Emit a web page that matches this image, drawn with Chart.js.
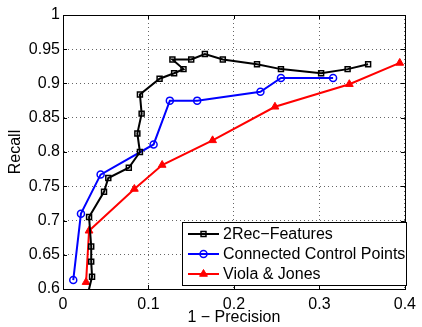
<!DOCTYPE html>
<html>
<head>
<meta charset="utf-8">
<script src="https://cdn.jsdelivr.net/npm/chart.js@4/dist/chart.umd.min.js"></script>
<style>
  html, body { margin: 0; padding: 0; background: #fff; }
  #wrap { width: 422px; height: 327px; }
</style>
</head>
<body>
<div id="wrap"><canvas id="prChart"></canvas></div>
<script>
// axis ticks
const xTicks = [0, 0.1, 0.2, 0.3, 0.4];
const yTicks = [0.6, 0.65, 0.7, 0.75, 0.8, 0.85, 0.9, 0.95, 1];

// 2Rec-Features
const recX = [0.0285, 0.034, 0.033, 0.033, 0.0305, 0.048, 0.053, 0.077, 0.090, 0.087, 0.092, 0.090, 0.113, 0.130, 0.141, 0.128, 0.150, 0.166, 0.187, 0.227, 0.255, 0.302, 0.333, 0.357];
const recY = [0.590, 0.618, 0.640, 0.662, 0.705, 0.742, 0.762, 0.777, 0.800, 0.827, 0.856, 0.884, 0.907, 0.915, 0.921, 0.935, 0.935, 0.943, 0.935, 0.928, 0.921, 0.915, 0.921, 0.928];

// Connected Control Points
const ccpX = [0.012, 0.021, 0.044, 0.106, 0.125, 0.157, 0.231, 0.255, 0.316];
const ccpY = [0.613, 0.710, 0.767, 0.811, 0.875, 0.875, 0.888, 0.908, 0.908];

// Viola & Jones
const vjX = [0.027, 0.0305, 0.0835, 0.116, 0.175, 0.248, 0.335, 0.394];
const vjY = [0.610, 0.685, 0.746, 0.781, 0.817, 0.866, 0.899, 0.930];

const seriesNames = ["2Rec\u2212Features", "Connected Control Points", "Viola & Jones"];

const toPoints = (xs, ys) => xs.map((x, i) => ({ x: x, y: ys[i] }));
const FONT = "'Liberation Sans', Arial, sans-serif";

// box + inward ticks like matlab
const framePlugin = {
    id: "frame",
    afterDraw(chart) {
        const { ctx, chartArea: a, scales } = chart;
        ctx.save();
        ctx.strokeStyle = "#000";
        ctx.lineWidth = 1;
        ctx.strokeRect(Math.round(a.left) + 0.5, Math.round(a.top) + 0.5, Math.round(a.right - a.left), Math.round(a.bottom - a.top));
        const len = 4;
        ctx.beginPath();
        xTicks.forEach(v => {
            const px = Math.round(scales.x.getPixelForValue(v)) + 0.5;
            ctx.moveTo(px, a.bottom); ctx.lineTo(px, a.bottom - len);
            ctx.moveTo(px, a.top); ctx.lineTo(px, a.top + len);
        });
        yTicks.forEach(v => {
            const py = Math.round(scales.y.getPixelForValue(v)) + 0.5;
            ctx.moveTo(a.left, py); ctx.lineTo(a.left + len, py);
            ctx.moveTo(a.right, py); ctx.lineTo(a.right - len, py);
        });
        ctx.stroke();
        ctx.restore();
    }
};

// legend box in the lower right corner
const boxLegend = {
    id: "boxLegend",
    afterDraw(chart) {
        const { ctx } = chart;
        const bx = 182.5, by = 222.5, bw = 224, bh = 63;
        ctx.save();
        ctx.fillStyle = "#fff";
        ctx.fillRect(bx, by, bw, bh);
        ctx.strokeStyle = "#000";
        ctx.lineWidth = 1;
        ctx.strokeRect(bx, by, bw, bh);
        ctx.font = "16px " + FONT;
        ctx.textBaseline = "middle";
        chart.data.datasets.forEach((ds, i) => {
            const cy = 234 + i * 20;
            ctx.strokeStyle = ds.borderColor;
            ctx.lineWidth = ds.borderWidth;
            ctx.beginPath();
            ctx.moveTo(188, cy); ctx.lineTo(219, cy);
            ctx.stroke();
            ctx.fillStyle = ds.pointBackgroundColor;
            ctx.lineWidth = ds.pointBorderWidth;
            Chart.helpers.drawPoint(ctx, {
                pointStyle: ds.pointStyle,
                radius: ds.pointRadius,
                borderWidth: ds.pointBorderWidth
            }, 203.5, cy);
            ctx.fillStyle = "#000";
            ctx.fillText(seriesNames[i], 223, cy + 1);
        });
        ctx.restore();
    }
};

const data = {
    datasets: [
        {
            label: seriesNames[0],
            data: toPoints(recX, recY),
            borderColor: "#000",
            borderWidth: 2,
            pointStyle: "rect",
            pointRadius: 3.5,
            pointBorderWidth: 1.5,
            pointBackgroundColor: "rgba(0,0,0,0)",
            showLine: true
        },
        {
            label: seriesNames[1],
            data: toPoints(ccpX, ccpY),
            borderColor: "#0000ff",
            borderWidth: 2,
            pointStyle: "circle",
            pointRadius: 3.5,
            pointBorderWidth: 1.5,
            pointBackgroundColor: "rgba(0,0,0,0)",
            showLine: true
        },
        {
            label: seriesNames[2],
            data: toPoints(vjX, vjY),
            borderColor: "#ff0000",
            borderWidth: 2,
            pointStyle: "triangle",
            pointRadius: 4.5,
            pointBorderWidth: 1,
            pointBackgroundColor: "#ff0000",
            showLine: true
        }
    ]
};

const gridStyle = {
    color: "#666",
    lineWidth: 1,
    drawTicks: false,
    tickLength: 0
};

const config = {
    type: "scatter",
    data: data,
    options: {
        responsive: true,
        maintainAspectRatio: false,
        animation: false,
        layout: { padding: { top: 15, right: 9, left: 0, bottom: 0 } },
        plugins: {
            legend: { display: false },
            tooltip: { enabled: false }
        },
        scales: {
            x: {
                type: "linear",
                min: 0,
                max: 0.4,
                afterBuildTicks: (s) => { s.ticks = xTicks.map(v => ({ value: v })); },
                afterFit: (s) => { s.height = 38; },
                ticks: {
                    color: "#000",
                    font: { family: FONT, size: 16 },
                    padding: 6,
                    maxRotation: 0,
                    callback: (v) => String(+v.toFixed(2))
                },
                grid: gridStyle,
                border: { display: true, color: "#000", dash: [1, 3] },
                title: {
                    display: true,
                    text: "1 \u2212 Precision",
                    color: "#000",
                    font: { family: FONT, size: 16 },
                    padding: { top: 0, bottom: 0 }
                }
            },
            y: {
                type: "linear",
                min: 0.6,
                max: 1,
                afterBuildTicks: (s) => { s.ticks = yTicks.map(v => ({ value: v })); },
                afterFit: (s) => { s.width = 63; },
                ticks: {
                    color: "#000",
                    font: { family: FONT, size: 16 },
                    padding: 3,
                    callback: (v) => String(+v.toFixed(2))
                },
                grid: gridStyle,
                border: { display: true, color: "#000", dash: [1, 3] },
                title: {
                    display: true,
                    text: "Recall",
                    color: "#000",
                    font: { family: FONT, size: 16 },
                    padding: { top: 6, bottom: 0 }
                }
            }
        }
    },
    plugins: [framePlugin, boxLegend]
};

const prChart = new Chart(document.getElementById("prChart").getContext("2d"), config);
</script>
</body>
</html>
